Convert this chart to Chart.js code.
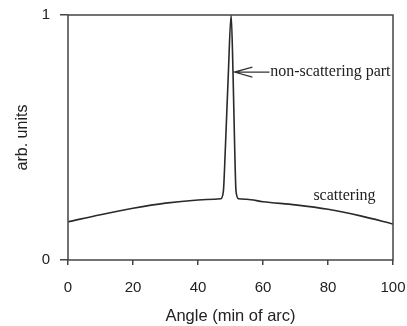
<!DOCTYPE html>
<html lang="en">
<head>
  <meta charset="UTF-8" />
  <title>Scattering profile</title>
  <script src="https://cdn.jsdelivr.net/npm/chart.js"></script>
  <style>
    html, body { margin: 0; padding: 0; background: #fff; }
    #wrap { width: 407px; height: 326px; }
  </style>
</head>
<body>
  <div id="wrap"><canvas id="profile" width="407" height="326"></canvas></div>

  <script>
    // angle (min of arc) and intensity (arb. units)
    const angles = [0, 10, 20, 30, 40, 45, 47, 47.8, 48.4, 49.3, 50.2, 50.8, 51.3, 51.7, 52.5, 55, 60, 70, 80, 90, 100];
    const intensity = [0.156, 0.185, 0.211, 0.232, 0.245, 0.248, 0.25, 0.28, 0.45, 0.75, 1.0, 0.75, 0.45, 0.28, 0.25, 0.248, 0.238, 0.225, 0.207, 0.18, 0.147];
    const xTicks = [0, 20, 40, 60, 80, 100];
    const yTicks = [0, 1];

    const ink = "#222";
    const frame = "#444";

    // labels placed in data units
    const notes = [
      { text: "non-scattering part", x: 62.2, y: 0.767 },
      { text: "scattering", x: 75.5, y: 0.262 }
    ];
    const arrow = { fromX: 62, toX: 51.2, y: 0.767 };

    const annotate = {
      id: "annotate",
      afterDatasetsDraw(chart) {
        const { ctx, chartArea: a, scales: { x, y } } = chart;
        ctx.save();
        // box round the plot
        ctx.strokeStyle = frame;
        ctx.lineWidth = 1.5;
        ctx.strokeRect(a.left, a.top, a.right - a.left, a.bottom - a.top);

        ctx.fillStyle = ink;
        ctx.font = "16px 'Liberation Serif'";
        ctx.textAlign = "left";
        ctx.textBaseline = "middle";
        notes.forEach(n => ctx.fillText(n.text, x.getPixelForValue(n.x), y.getPixelForValue(n.y)));

        // open arrow pointing at the peak
        const x0 = x.getPixelForValue(arrow.fromX);
        const x1 = x.getPixelForValue(arrow.toX);
        const ay = y.getPixelForValue(arrow.y);
        ctx.strokeStyle = "#333";
        ctx.lineWidth = 1.2;
        ctx.beginPath();
        ctx.moveTo(x0, ay);
        ctx.lineTo(x1, ay);
        ctx.moveTo(x1 + 18, ay - 5);
        ctx.lineTo(x1, ay);
        ctx.lineTo(x1 + 18, ay + 5);
        ctx.stroke();
        ctx.restore();
      }
    };

    new Chart(document.getElementById("profile"), {
      type: "line",
      data: {
        datasets: [{
          data: angles.map((a, i) => ({ x: a, y: intensity[i] })),
          borderColor: "#2a2a2a",
          borderWidth: 1.6,
          pointRadius: 0,
          fill: false,
          cubicInterpolationMode: "monotone"
        }]
      },
      options: {
        responsive: false,
        animation: false,
        layout: { padding: { top: 15, right: 14, left: 0, bottom: 0 } },
        plugins: { legend: { display: false }, tooltip: { enabled: false } },
        scales: {
          x: {
            type: "linear",
            min: 0,
            max: 100,
            afterBuildTicks: s => { s.ticks = xTicks.map(v => ({ value: v })); },
            afterFit: s => { s.height = 66; s.paddingLeft = 0; s.paddingRight = 0; },
            grid: { drawOnChartArea: false, tickLength: 5, color: frame, lineWidth: 1.5 },
            border: { display: false },
            ticks: { color: ink, padding: 14, maxRotation: 0, font: { family: "'Liberation Sans'", size: 15 } },
            title: {
              display: true,
              text: "Angle (min of arc)",
              color: ink,
              padding: { top: 0, bottom: 0 },
              font: { family: "'Liberation Sans'", size: 16.5 }
            }
          },
          y: {
            min: 0,
            max: 1,
            afterBuildTicks: s => { s.ticks = yTicks.map(v => ({ value: v })); },
            afterFit: s => { s.width = 68; s.paddingTop = 0; s.paddingBottom = 0; },
            grid: { drawOnChartArea: false, tickLength: 8, color: frame, lineWidth: 1.5 },
            border: { display: false },
            ticks: { color: ink, padding: 10, font: { family: "'Liberation Sans'", size: 15 } },
            title: {
              display: true,
              text: "arb. units",
              color: ink,
              padding: { top: 13, bottom: 0 },
              font: { family: "'Liberation Sans'", size: 16 }
            }
          }
        }
      },
      plugins: [annotate]
    });
  </script>
</body>
</html>
